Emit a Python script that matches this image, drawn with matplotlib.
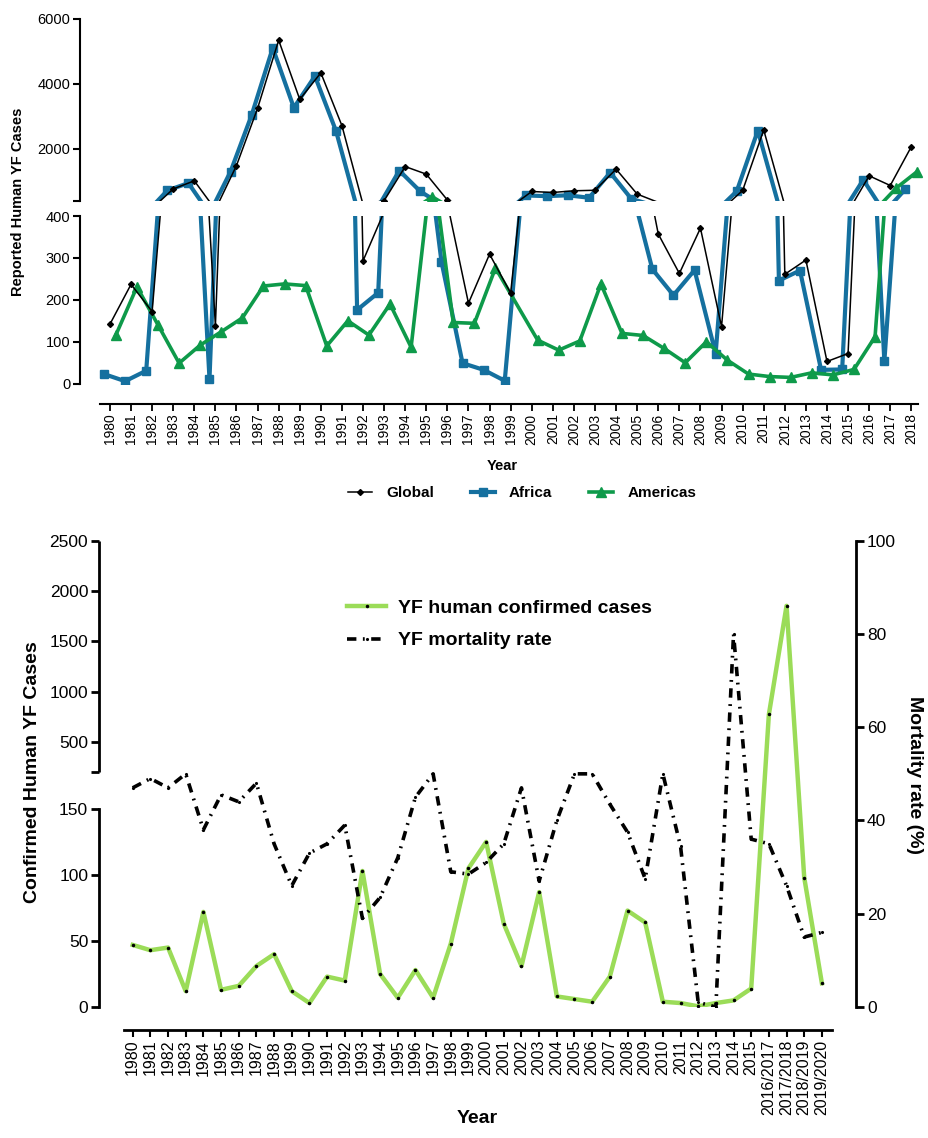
import numpy as np
import matplotlib
matplotlib.use("Agg")
import matplotlib.pyplot as plt
from matplotlib.lines import Line2D

plt.rcParams['font.family'] = ['Liberation Sans', 'DejaVu Sans']

# ---- top panel data (reported cases by region) ----
years = list(range(1980, 2019))
global_cases = [142, 237, 172, 771, 1020, 138, 1489, 3246, 5339, 3522,
                4337, 2714, 293, 410, 1458, 1225, 430, 192, 309, 216,
                692, 662, 714, 730, 1378, 612, 357, 263, 371, 136,
                723, 2582, 261, 295, 53, 72, 1173, 876, 2070]
africa_cases = [23, 6, 31, 723, 950, 11, 1305, 3041, 5103, 3265,
                4236, 2551, 176, 217, 1335, 692, 291, 49, 33, 7,
                570, 550, 575, 500, 1274, 468, 273, 211, 271, 72,
                700, 2561, 246, 270, 33, 34, 1050, 53, 766]
americas_cases = [116, 231, 140, 49, 92, 124, 157, 233, 238, 234,
                  90, 150, 116, 190, 87, 530, 146, 144, 276, np.nan,
                  104, 80, 102, 238, 120, 115, 84, 50, 100, 56,
                  23, 17, 15, 26, 21, 34, 112, 796, 1305]

# ---- bottom panel data (confirmed cases, mortality) ----
periods = [str(y) for y in range(1980, 2016)] + ['2016/2017', '2017/2018', '2018/2019', '2019/2020']
confirmed = [47, 43, 45, 12, 72, 13, 16, 31, 40, 12,
             3, 23, 20, 103, 25, 7, 28, 7, 48, 105,
             125, 63, 31, 87, 8, 6, 4, 23, 73, 64,
             4, 3, 0.5, 3, 5, 14, 774, 1853, 98, 18]
mortality = [47, 49, 47, 50, 38, 45.5, 44, 48, 35, 26,
             33, 35, 39, 19, 23.5, 32, 45, 50, 29, 28.5,
             31, 35, 47, 27, 40, 50, 50, 43.5, 37.5, 27.5,
             50, 34.5, 1, 0, 80, 36, 35, 26, 15, 16]

W, H = 929, 1138
fig = plt.figure(figsize=(W / 100, H / 100), dpi=100)


def fig_rect(left, top, right, bottom):
    return [left / W, 1 - bottom / H, (right - left) / W, (bottom - top) / H]


BLUE = '#15709f'
GREEN = '#0e9a4a'
LGREEN = '#9bdc58'
BREAK = 400

# ---------------- top panel: broken y axis ----------------
ax_up = fig.add_axes(fig_rect(80, 18.7, 924, 201))
ax_lo = fig.add_axes(fig_rect(80, 216, 924, 383.7))

x = np.array(years, float)
gl = np.array(global_cases, float)
af = np.array(africa_cases, float)
am = np.array(americas_cases, float)
ok = ~np.isnan(am)
am_x, am_y = x[ok] + 0.28, am[ok]

series = [
    (x - 0.28, af, dict(color=BLUE, lw=3.0, marker='s', ms=5.5, zorder=2)),
    (am_x, am_y, dict(color=GREEN, lw=2.6, marker='^', ms=6.5, zorder=3)),
    (x, gl, dict(color='black', lw=1.1, marker='D', ms=3, zorder=4)),
]

for ax, upper in ((ax_up, True), (ax_lo, False)):
    for xs, ys, kw in series:
        # only put markers on points that belong to this segment
        keep = ys >= BREAK if upper else ys <= BREAK
        ax.plot(xs, ys, markevery=list(np.flatnonzero(keep)), **kw)
    ax.set_xlim(1978.58, 2018.6)
    for s in ('top', 'right'):
        ax.spines[s].set_visible(False)
    ax.spines['left'].set_linewidth(1.5)
    ax.tick_params(axis='y', direction='out', length=5, width=1.5,
                   labelsize=10.5, pad=2)

ax_up.set_ylim(BREAK, 6000)
ax_up.set_yticks([400, 2000, 4000, 6000])
ax_up.set_yticklabels(['', '2000', '4000', '6000'])
ax_up.spines['bottom'].set_visible(False)
ax_up.tick_params(axis='x', bottom=False, labelbottom=False)

ax_lo.set_ylim(0, BREAK)
ax_lo.set_yticks([0, 100, 200, 300, 400])
ax_lo.spines['bottom'].set_position(('outward', 14.4))
ax_lo.spines['bottom'].set_linewidth(1.5)
ax_lo.spines['bottom'].set_bounds(1979.53, 2018.3)
ax_lo.set_xticks(years)
ax_lo.set_xticklabels([str(y) for y in years], rotation=90)
ax_lo.tick_params(axis='x', direction='out', length=5, width=1.3,
                  labelsize=10, pad=2)
ax_lo.set_xlabel('Year', fontsize=10.5, fontweight='bold', labelpad=10)

fig.text(18 / W, 1 - 202 / H, 'Reported Human YF Cases', rotation=90,
         ha='center', va='center', fontsize=10.5, fontweight='bold')

handles = [
    Line2D([], [], color='black', lw=1.1, marker='D', ms=3),
    Line2D([], [], color=BLUE, lw=3.0, marker='s', ms=5.5),
    Line2D([], [], color=GREEN, lw=2.6, marker='^', ms=6.5),
]
fig.legend(handles, ['Global', 'Africa', 'Americas'], loc='center',
           bbox_to_anchor=(522 / W, 1 - 493 / H), ncol=3, frameon=False,
           prop={'size': 11, 'weight': 'bold'}, handlelength=1.6,
           columnspacing=2.4, handletextpad=0.9)

# ---------------- bottom panel: broken left axis + mortality ----------------
LOW_TOP, GAP_TOP, FULL = 197.7, 234.3, 465.3


def fwd(v):
    v = np.asarray(v, float)
    return np.where(v <= 150, v * LOW_TOP / 150,
                    np.where(v <= 200, LOW_TOP + (v - 150) * (GAP_TOP - LOW_TOP) / 50,
                             GAP_TOP + (v - 200) * (FULL - GAP_TOP) / 2300))


def inv(p):
    p = np.asarray(p, float)
    return np.where(p <= LOW_TOP, p * 150 / LOW_TOP,
                    np.where(p <= GAP_TOP, 150 + (p - LOW_TOP) * 50 / (GAP_TOP - LOW_TOP),
                             200 + (p - GAP_TOP) * 2300 / (FULL - GAP_TOP)))


axb = fig.add_axes(fig_rect(99.3, 540.7, 856, 1007))
axr = axb.twinx()

idx = np.arange(len(periods))
axb.set_yscale('function', functions=(fwd, inv))
axb.set_ylim(0, 2500)
axb.set_xlim(-1.89, 40.93)
axr.set_ylim(0, 100)

l1, = axb.plot(idx, confirmed, color=LGREEN, lw=3.2, marker='.', ms=3,
               mfc='black', mec='black', zorder=3,
               label='YF human confirmed cases')
l2, = axr.plot(idx, mortality, color='black', lw=2.6,
               dashes=(2.6, 1.8, 0.5, 1.8), marker='.', ms=2.5,
               label='YF mortality rate')

for s in ('top', 'right'):
    axb.spines[s].set_visible(False)
for s in ('top', 'left', 'bottom'):
    axr.spines[s].set_visible(False)
axr.spines['right'].set_linewidth(2)

axb.spines['left'].set_bounds(0, 150)
axb.spines['left'].set_linewidth(2)
axb.plot([0, 0], [200, 2500], transform=axb.get_yaxis_transform(),
         color='black', lw=2, clip_on=False, solid_capstyle='butt')
axb.set_yticks([0, 50, 100, 150, 200, 500, 1000, 1500, 2000, 2500])
axb.set_yticklabels(['0', '50', '100', '150', '', '500', '1000', '1500', '2000', '2500'])
axb.yaxis.set_minor_locator(matplotlib.ticker.NullLocator())
axb.tick_params(axis='y', direction='out', length=6, width=2,
                labelsize=12.5, pad=2)

axr.set_yticks([0, 20, 40, 60, 80, 100])
axr.tick_params(axis='y', direction='out', length=6, width=2,
                labelsize=12.5, pad=2)

axb.spines['bottom'].set_position(('outward', 16.6))
axb.spines['bottom'].set_linewidth(2)
axb.spines['bottom'].set_bounds(-0.5, 39.56)
axb.set_xticks(idx)
axb.set_xticklabels(periods, rotation=90)
axb.tick_params(axis='x', direction='out', length=5, width=1.5,
                labelsize=11.5, pad=2)
axb.set_xlabel('Year', fontsize=14, fontweight='bold', labelpad=-4)

fig.text(33 / W, 1 - 772 / H, 'Confirmed Human YF Cases', rotation=90,
         ha='center', va='center', fontsize=14, fontweight='bold')
fig.text(915 / W, 1 - 775 / H, 'Mortality rate (%)', rotation=270,
         ha='center', va='center', fontsize=14, fontweight='bold')

fig.legend([l1, l2], ['YF human confirmed cases', 'YF mortality rate'],
           loc='upper left', bbox_to_anchor=(330 / W, 1 - 582 / H),
           frameon=False, prop={'size': 14, 'weight': 'bold'},
           handlelength=2.0, handletextpad=0.6, labelspacing=0.75)

fig.savefig('out.png', dpi=100)
